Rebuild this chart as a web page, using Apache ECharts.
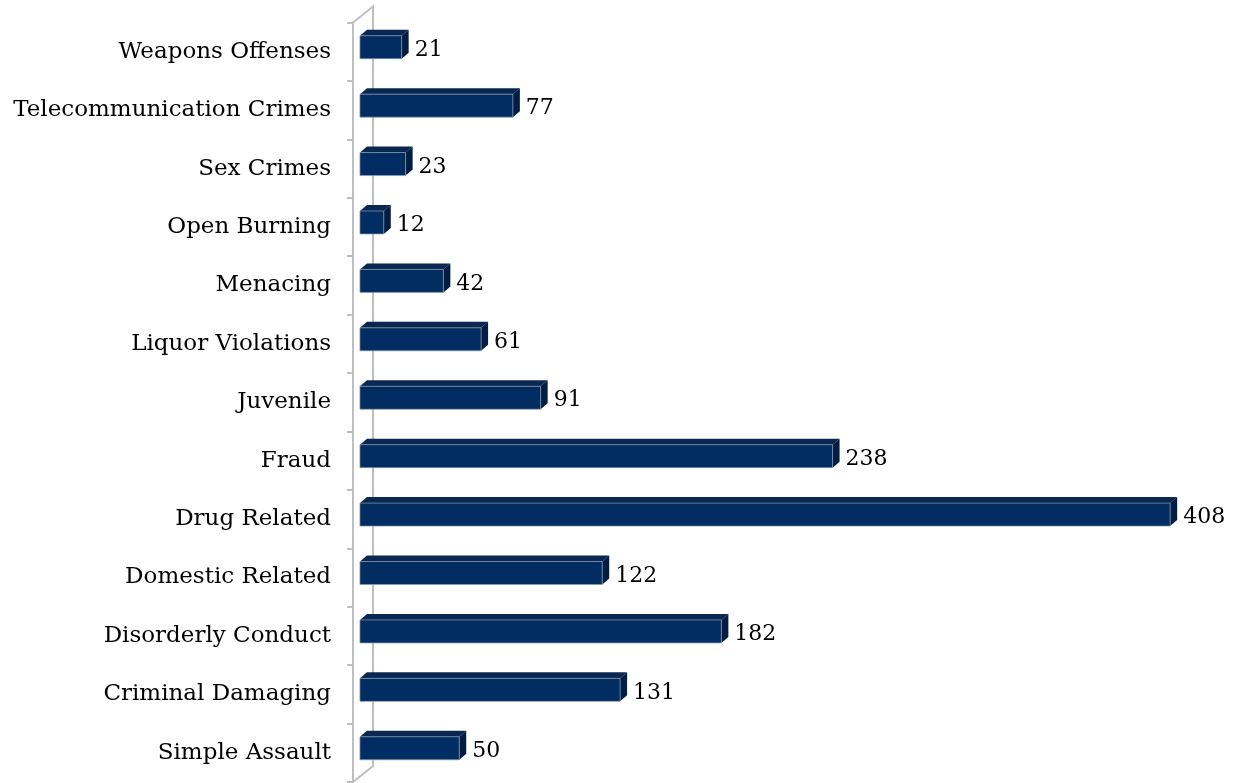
<!DOCTYPE html>
<html>
<head>
<meta charset="utf-8">
<script src="https://cdn.jsdelivr.net/npm/echarts@6/dist/echarts.min.js"></script>
<style>
html,body{margin:0;padding:0;background:#fff;}
#chart{width:1240px;height:783px;}
</style>
</head>
<body>
<div id="chart"></div>
<script>
// Data (bottom to top)
const categories = [
  'Simple Assault', 'Criminal Damaging', 'Disorderly Conduct', 'Domestic Related',
  'Drug Related', 'Fraud', 'Juvenile', 'Liquor Violations', 'Menacing',
  'Open Burning', 'Sex Crimes', 'Telecommunication Crimes', 'Weapons Offenses'
];
const values = [50, 131, 182, 122, 408, 238, 91, 61, 42, 12, 23, 77, 21];

const FONT = '"DejaVu Serif", "Liberation Serif", serif';
const FRONT = '#022d62';
const TOP = '#0a2752';
const SIDE = '#021d42';
const EDGE = 'rgba(140,155,180,0.7)';
const DX = 7, DY = 6, BAR_H = 23, SHIFT = -4.5;

const chart = echarts.init(document.getElementById('chart'));
chart.setOption({
  animation: false,
  backgroundColor: '#fff',
  grid: { left: 353, right: 46, top: 22.5, bottom: 1 },
  xAxis: { type: 'value', min: -3.5, max: 420, show: false },
  yAxis: {
    type: 'category',
    data: categories,
    axisLine: { show: true, onZero: false, lineStyle: { color: '#bfbfbf', width: 2 } },
    axisTick: { show: true, length: 6, lineStyle: { color: '#bfbfbf', width: 2 } },
    axisLabel: { margin: 22, color: '#000', fontFamily: FONT, fontSize: 23 },
    splitLine: { show: false }
  },
  graphic: [{
    type: 'polyline',
    shape: { points: [[353, 22.5], [373, 6.5], [373, 766], [353, 782]] },
    style: { stroke: '#bfbfbf', lineWidth: 2, fill: null },
    silent: true
  }],
  series: [{
    type: 'custom',
    data: values.map((v, i) => [v, i]),
    encode: { x: 0, y: 1 },
    renderItem: function (params, api) {
      const v = api.value(0), c = api.value(1);
      const p0 = api.coord([0, c]);
      const p1 = api.coord([v, c]);
      const cy = p0[1] + SHIFT;
      const x0 = p0[0], x1 = p1[0];
      const y0 = cy - BAR_H / 2, y1 = cy + BAR_H / 2;
      return {
        type: 'group',
        children: [
          { type: 'polygon', shape: { points: [[x0, y0], [x0 + DX, y0 - DY], [x1 + DX, y0 - DY], [x1, y0]] }, style: { fill: TOP } },
          { type: 'polygon', shape: { points: [[x1, y0], [x1 + DX, y0 - DY], [x1 + DX, y1 - DY], [x1, y1]] }, style: { fill: SIDE } },
          { type: 'rect', shape: { x: x0, y: y0, width: x1 - x0, height: BAR_H }, style: { fill: FRONT, stroke: EDGE, lineWidth: 1 } },
          { type: 'text', x: x1 + DX + 6, y: cy + 3, style: { text: String(v), fill: '#000', font: '22px ' + FONT, verticalAlign: 'middle', align: 'left' } }
        ]
      };
    }
  }]
});
</script>
</body>
</html>
